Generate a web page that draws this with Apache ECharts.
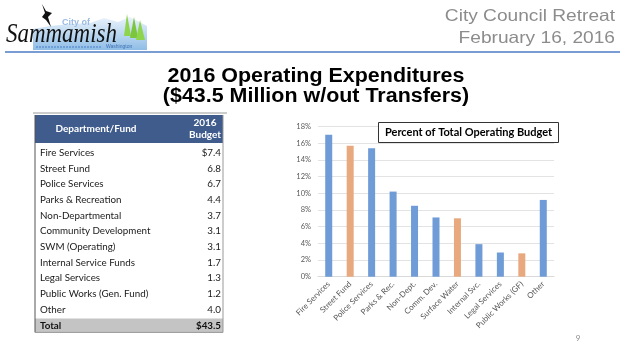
<!DOCTYPE html>
<html><head><meta charset="utf-8">
<script src="https://cdn.jsdelivr.net/npm/echarts@6/dist/echarts.min.js"></script>
<style>html,body{margin:0;padding:0;background:#fff}#c{width:628px;height:345px}</style>
</head><body><div id="c"></div>
<script>
// ---- data ----
const categories = ['Fire Services','Street Fund','Police Services','Parks & Rec.','Non-Dept.','Comm. Dev.','Surface Water','Internal Svc.','Legal Services','Public Works (GF)','Other'];
const percentValues = [17.0,15.7,15.4,10.2,8.5,7.1,7.0,3.9,2.9,2.8,9.2];
const barGroup = ['general','fund','general','general','general','general','fund','general','general','fund','general'];
const yTicks = {min:0, max:18, interval:2};
const tableDepts = ['Fire Services','Street Fund','Police Services','Parks & Recreation','Non-Departmental','Community Development','SWM (Operating)','Internal Service Funds','Legal Services','Public Works (Gen. Fund)','Other'];
const tableBudget = ['$7.4','6.8','6.7','4.4','3.7','3.1','3.1','1.7','1.3','1.2','4.0'];
const tableTotal = ['Total','$43.5'];
const tableHeader = ['Department/Fund','2016\nBudget'];
const titleLines = ['2016 Operating Expenditures','($43.5 Million w/out Transfers)'];
const headerLines = ['City Council Retreat','February 16, 2016'];
const chartTitle = 'Percent of Total Operating Budget';
const pageNumber = '9';

// ---- styles ----
const groupColor = {general:'#6f9bd6', fund:'#e8a97f'};
const calib = 'Lato, "Noto Sans", sans-serif';
const arial = '"Liberation Sans", Arial, sans-serif';

const graphics = [];
// header line
graphics.push({type:'line', shape:{x1:5,y1:52,x2:620,y2:52}, style:{stroke:'#4d7cc4', lineWidth:1.5}});
// logo
graphics.push({type:'polygon', shape:{points:[[33,50],[33,29],[50,26],[70,24],[90,23],[104,18],[118,22],[130,17],[147,26],[147,50]]},
  style:{fill:{type:'linear',x:0,y:0,x2:0,y2:1,colorStops:[{offset:0,color:'#eaf3fb'},{offset:1,color:'#8fbde6'}]}}});
graphics.push({type:'line', shape:{x1:36,y1:47,x2:102,y2:47}, style:{stroke:'#6f9fd6', lineWidth:2, lineDash:[2,1]}});
graphics.push({type:'text', style:{x:106,y:47,text:'Washington',font:'5px sans-serif',fill:'#3f6fb4',verticalAlign:'middle'}});
graphics.push({type:'text', style:{x:62,y:23,text:'City of',font:'bold 9px '+arial,fill:'#9bbbe3',verticalAlign:'middle'}});
graphics.push({type:'polygon', shape:{points:[[124,36],[127,14],[131,36]]}, style:{fill:'#8fd44d'}});
graphics.push({type:'polygon', shape:{points:[[130,38],[134,17],[138,38]]}, style:{fill:'#7cc63e'}});
graphics.push({type:'polygon', shape:{points:[[136,40],[140,20],[145,40]]}, style:{fill:'#8fd44d'}});
graphics.push({type:'polygon', shape:{points:[[42,4],[46,11],[52,13],[48,17],[51,27],[46,20],[42,17],[45,13]]}, style:{fill:'#111'}});
graphics.push({type:'text', x:6, y:35, scaleX:0.82, style:{x:0,y:0,text:'Sammamish',font:'italic 28px "Liberation Serif", "DejaVu Serif", serif',fill:'#111',verticalAlign:'middle'}});
// header right text
headerLines.forEach((t,i)=>graphics.push({type:'text', x:615, y:16+i*22.5, scaleX:1.16, style:{x:0,y:0,text:t,font:'16.5px '+arial,fill:'#8c8c8c',align:'right',verticalAlign:'middle'}}));
// main title
titleLines.forEach((t,i)=>graphics.push({type:'text', x:316, y:77+i*20, scaleX:1.1, style:{x:0,y:0,text:t,font:'bold 19.5px '+arial,fill:'#000',align:'center',verticalAlign:'middle'}}));
// table
const tL=35, tR=223, tTop=115, hdrH=28, row0=152.7, rowH=15.7;
graphics.push({type:'line', shape:{x1:tL-2,y1:113,x2:tR+4,y2:113}, style:{stroke:'#9a9a9a', lineWidth:1}});
graphics.push({type:'rect', shape:{x:tL,y:tTop,width:tR-tL,height:hdrH}, style:{fill:'#3f5c8d'}});
graphics.push({type:'text', style:{x:96,y:tTop+hdrH/2,text:tableHeader[0],font:'bold 10px '+calib,fill:'#fff',align:'center',verticalAlign:'middle'}});
graphics.push({type:'text', style:{x:205,y:tTop+hdrH/2,text:tableHeader[1],font:'bold 10px '+calib,fill:'#fff',align:'center',verticalAlign:'middle',lineHeight:12.5}});
tableDepts.forEach((d,i)=>{
  const y=row0+i*rowH;
  graphics.push({type:'text', style:{x:40,y:y,text:d,font:'9.8px '+calib,fill:'#1a1a1a',verticalAlign:'middle'}});
  graphics.push({type:'text', style:{x:221,y:y,text:tableBudget[i],font:'9.8px '+calib,fill:'#1a1a1a',align:'right',verticalAlign:'middle'}});
});
const totY=row0+tableDepts.length*rowH;
graphics.push({type:'rect', shape:{x:tL,y:totY-7,width:tR-tL,height:14}, style:{fill:'#c4c4c4'}});
graphics.push({type:'text', style:{x:40,y:totY,text:tableTotal[0],font:'bold 9.8px '+calib,fill:'#111',verticalAlign:'middle'}});
graphics.push({type:'text', style:{x:221,y:totY,text:tableTotal[1],font:'bold 9.8px '+calib,fill:'#111',align:'right',verticalAlign:'middle'}});
graphics.push({type:'line', shape:{x1:tL,y1:tTop,x2:tL,y2:totY+7}, style:{stroke:'#555', lineWidth:1}});
graphics.push({type:'line', shape:{x1:tR,y1:tTop,x2:tR,y2:totY+7}, style:{stroke:'#999', lineWidth:1}});
graphics.push({type:'line', shape:{x1:tL,y1:totY+7,x2:tR,y2:totY+7}, style:{stroke:'#999', lineWidth:1}});
// page number
graphics.push({type:'text', style:{x:578,y:338,text:pageNumber,font:'8px '+calib,fill:'#8c8c8c',align:'center',verticalAlign:'middle'}});

const chart = echarts.init(document.getElementById('c'), null, {renderer:'canvas'});
chart.setOption({
  animation:false,
  title:{text:chartTitle, left:378, top:122, padding:[5,7,5,7], borderColor:'#333', borderWidth:1, backgroundColor:'#fff',
    textStyle:{fontFamily:calib, fontWeight:'bold', fontSize:11, color:'#000'}},
  grid:{left:318, right:74, top:126.5, bottom:68.3, containLabel:false},
  xAxis:{type:'category', data:categories,
    axisLine:{show:true, lineStyle:{color:'#d9d9d9'}}, axisTick:{show:false},
    axisLabel:{rotate:45, interval:0, fontSize:8, color:'#595959', fontFamily:calib, margin:6}},
  yAxis:{type:'value', min:yTicks.min, max:yTicks.max, interval:yTicks.interval,
    axisLine:{show:false}, axisTick:{show:false},
    axisLabel:{formatter:'{value}%', fontSize:7.5, color:'#595959', fontFamily:calib, margin:7},
    splitLine:{lineStyle:{color:'#e3e3e3'}}},
  series:[{type:'bar', barWidth:7,
    data:percentValues.map((v,i)=>({value:v, itemStyle:{color:groupColor[barGroup[i]]}}))}],
  graphic:graphics
});
</script></body></html>
